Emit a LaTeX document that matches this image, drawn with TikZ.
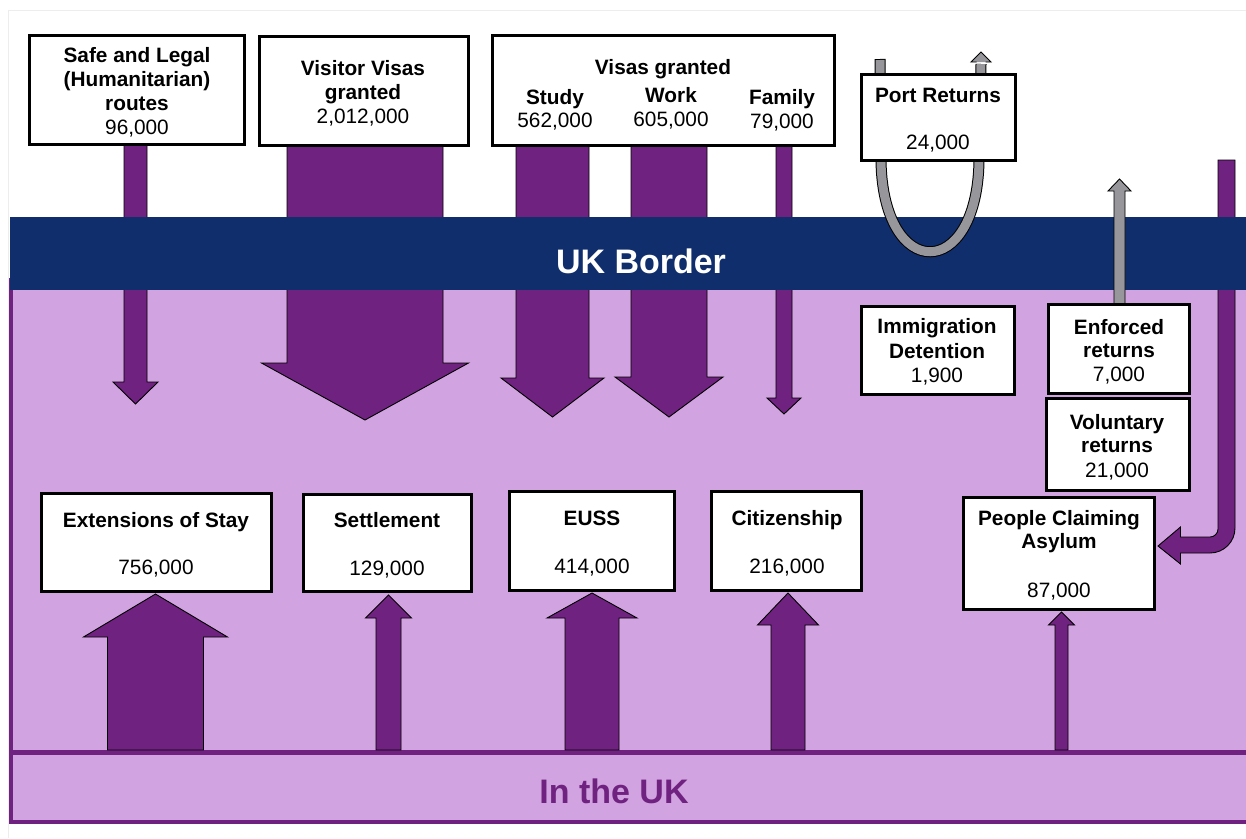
\documentclass[tikz,border=0pt]{standalone}
\usepackage{fontspec}
\setmainfont{Liberation Sans}
\definecolor{ukpurple}{HTML}{702280}
\definecolor{uklav}{HTML}{D1A3E0}
\definecolor{uknavy}{HTML}{102E6C}
\definecolor{ukgray}{HTML}{96969B}
% block arrow: #1 style, #2 centre x, #3 start y, #4 head base y, #5 tip y, #6 shaft half width, #7 head half width
\newcommand\vblock[7]{%
  \draw[#1] ({#2-#6},#3) -- ({#2-#6},#4) -- ({#2-#7},#4) -- (#2,#5) -- ({#2+#7},#4) -- ({#2+#6},#4) -- ({#2+#6},#3) -- cycle;}
\begin{document}
\begin{tikzpicture}[x=1pt,y=-1pt,
  box/.style={draw=black, line width=3pt, fill=white, inner sep=0pt},
  bt/.style={anchor=base, inner sep=0pt, font=\bfseries\fontsize{20.8pt}{24pt}\selectfont},
  nt/.style={anchor=base, inner sep=0pt, font=\fontsize{20.8pt}{24pt}\selectfont},
  blk/.style={fill=ukpurple, draw=black, line width=0.9pt, line join=miter},
  gblk/.style={fill=ukgray, draw=black, line width=0.9pt, line join=miter},
  bigtxt/.style={anchor=base, inner sep=0pt, font=\bfseries\fontsize{34pt}{40pt}\selectfont}]
\useasboundingbox (0,0) rectangle (1246,838);
\fill[white] (0,0) rectangle (1246,838);
% faint frame
\draw[black!7, line width=1pt] (8,838) -- (8,10) -- (1246,10);
% inside region
\draw[ukpurple, line width=4pt, fill=uklav] (11.3,280) rectangle (1262,821.5);
\draw[ukpurple, line width=4.5pt] (11.3,752.5) -- (1262,752.5);
% purple block arrows (down)
\vblock{blk}{135.5}{140}{382}{404}{11.5}{22.5}
\vblock{blk}{365}{140}{363}{420}{78}{103.5}
\vblock{blk}{552.5}{140}{378}{417}{36.5}{51.5}
\vblock{blk}{669}{140}{377}{417}{38}{54}
\vblock{blk}{784}{140}{398}{414}{8}{17}
% purple block arrows (up)
\vblock{blk}{155.5}{750}{637}{594}{48}{72}
\vblock{blk}{388.5}{750}{618}{595}{12.5}{23}
\vblock{blk}{592}{750}{618}{593}{27}{45}
\vblock{blk}{788}{750}{625}{593}{17}{30.5}
\vblock{blk}{1061.5}{750}{625}{612}{6.5}{13}
% asylum bent arrow
\draw[blk] (1218,160) -- (1218,529) .. controls (1218,533.4) and (1214.4,537) .. (1210,537)
  -- (1180.5,537) -- (1180.5,527) -- (1158,546) -- (1180.5,564) -- (1180.5,553) -- (1210,553)
  .. controls (1223.8,553) and (1235,541.8) .. (1235,528) -- (1235,160) -- cycle;
% UK border band
\fill[uknavy] (10,217) rectangle (1262,290);
\node[bigtxt, text=white] (border) at (641,273) {UK Border};
\node[bigtxt, text=ukpurple] (inuk) at (614,803) {In the UK};
% port returns U arrow (grey)
\draw[black, line width=11pt] (880,59) -- (881,161) .. controls (883,282) and (977,282) .. (979,161) -- (981,64);
\draw[ukgray, line width=9pt] (880,60) -- (881,161) .. controls (883,282) and (977,282) .. (979,161) -- (981,64);
\filldraw[fill=ukgray, draw=black, line width=0.9pt, line join=miter] (976.5,62) -- (971,62) -- (981,52) -- (991,62) -- (985.5,62);
% enforced returns arrow (grey)
\vblock{gblk}{1119.5}{310}{191}{179}{5.5}{11.5}
% top boxes
\node[box, minimum width=215pt, minimum height=109pt] (safe) at (137,90) {};
\node[bt] (safe1) at (137,62) {Safe and Legal};
\node[bt] (safe2) at (137,86) {(Humanitarian)};
\node[bt] (safe3) at (137,110) {routes};
\node[nt] (safe4) at (137,134) {96,000};
\node[box, minimum width=209pt, minimum height=109pt] (visitor) at (364,91) {};
\node[bt] (visitor1) at (363,75) {Visitor Visas};
\node[bt] (visitor2) at (363,99) {granted};
\node[nt] (visitor3) at (363,123) {2,012,000};
\node[box, minimum width=342pt, minimum height=110pt] (visas) at (663.5,90.5) {};
\node[bt] (visas1) at (663,74) {Visas granted};
\node[bt] (study1) at (555,104) {Study};
\node[nt] (study2) at (555,127) {562,000};
\node[bt] (work1) at (671,102) {Work};
\node[nt] (work2) at (671,126) {605,000};
\node[bt] (family1) at (782,104) {Family};
\node[nt] (family2) at (782,128) {79,000};
\node[box, minimum width=154pt, minimum height=86pt] (port) at (938.5,117.5) {};
\node[bt] (port1) at (938,102) {Port Returns};
\node[nt] (port2) at (938,149) {24,000};
% middle right boxes
\node[box, minimum width=153pt, minimum height=88pt] (detain) at (938,350.5) {};
\node[bt] (detain1) at (937,333) {Immigration};
\node[bt] (detain2) at (937,358) {Detention};
\node[nt] (detain3) at (937,382) {1,900};
\node[box, minimum width=141pt, minimum height=89pt] (enforced) at (1119,349) {};
\node[bt] (enf1) at (1119,334) {Enforced};
\node[bt] (enf2) at (1119,357) {returns};
\node[nt] (enf3) at (1119,381) {7,000};
\node[box, minimum width=143pt, minimum height=92pt] (volunt) at (1118,444.5) {};
\node[bt] (vol1) at (1117,429) {Voluntary};
\node[bt] (vol2) at (1117,452) {returns};
\node[nt] (vol3) at (1117,477) {21,000};
\node[box, minimum width=191pt, minimum height=112pt] (asylum) at (1059,553.5) {};
\node[bt] (asy1) at (1059,525) {People Claiming};
\node[bt] (asy2) at (1059,548) {Asylum};
\node[nt] (asy3) at (1059,597) {87,000};
% bottom boxes
\node[box, minimum width=230pt, minimum height=98pt] (ext) at (156.5,542.5) {};
\node[bt] (ext1) at (156,527) {Extensions of Stay};
\node[nt] (ext2) at (156,574) {756,000};
\node[box, minimum width=168pt, minimum height=97pt] (settle) at (387.5,543) {};
\node[bt] (settle1) at (387,527) {Settlement};
\node[nt] (settle2) at (387,575) {129,000};
\node[box, minimum width=165pt, minimum height=99pt] (euss) at (592,541) {};
\node[bt] (euss1) at (592,525) {EUSS};
\node[nt] (euss2) at (592,573) {414,000};
\node[box, minimum width=150pt, minimum height=99pt] (citizen) at (786.5,541) {};
\node[bt] (cit1) at (787,525) {Citizenship};
\node[nt] (cit2) at (787,573) {216,000};
\end{tikzpicture}
\end{document}
